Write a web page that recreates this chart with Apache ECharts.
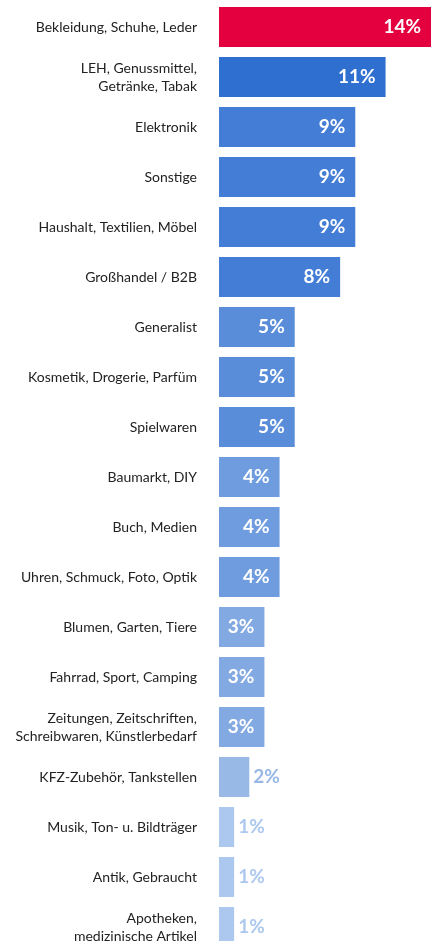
<!DOCTYPE html>
<html>
<head>
<meta charset="utf-8">
<script src="https://cdn.jsdelivr.net/npm/echarts@6/dist/echarts.min.js"></script>
<style>
  html, body { margin: 0; padding: 0; background: #fff; }
  #main { width: 431px; height: 941px; }
</style>
</head>
<body>
<div id="main"></div>
<script>
// Branchen
var categories = [
    'Bekleidung, Schuhe, Leder',
    'LEH, Genussmittel,\nGetränke, Tabak',
    'Elektronik',
    'Sonstige',
    'Haushalt, Textilien, Möbel',
    'Großhandel / B2B',
    'Generalist',
    'Kosmetik, Drogerie, Parfüm',
    'Spielwaren',
    'Baumarkt, DIY',
    'Buch, Medien',
    'Uhren, Schmuck, Foto, Optik',
    'Blumen, Garten, Tiere',
    'Fahrrad, Sport, Camping',
    'Zeitungen, Zeitschriften,\nSchreibwaren, Künstlerbedarf',
    'KFZ-Zubehör, Tankstellen',
    'Musik, Ton- u. Bildträger',
    'Antik, Gebraucht',
    'Apotheken,\nmedizinische Artikel'
];
// Anteil in %
var values = [14, 11, 9, 9, 9, 8, 5, 5, 5, 4, 4, 4, 3, 3, 3, 2, 1, 1, 1];

// Farbe je nach Wert
function barColor(v, i) {
    if (i === 0) return '#E4003F';
    if (v >= 11) return '#2F6FCF';
    if (v >= 8) return '#447DD5';
    if (v >= 5) return '#5A8DD9';
    if (v >= 4) return '#6E9CDF';
    if (v >= 3) return '#83A9E3';
    if (v >= 2) return '#98B8E6';
    return '#ADC8EE';
}

var seriesData = values.map(function (v, i) {
    var small = v <= 2;
    return {
        value: v,
        itemStyle: { color: barColor(v, i) },
        label: small ? {
            position: 'right',
            distance: 4,
            color: barColor(v, i)
        } : {
            position: 'insideRight',
            distance: 10,
            color: '#fff'
        }
    };
});

var chart = echarts.init(document.getElementById('main'));
chart.setOption({
    animation: false,
    grid: {
        left: 219,
        right: 0,
        top: 2,
        height: 950,
        outerBoundsMode: 'none',
        containLabel: false
    },
    xAxis: {
        type: 'value',
        min: 0,
        max: 14,
        show: false
    },
    yAxis: {
        type: 'category',
        data: categories,
        inverse: true,
        axisLine: { show: false },
        axisTick: { show: false },
        axisLabel: {
            margin: 22,
            fontFamily: 'Lato',
            fontSize: 14,
            lineHeight: 18,
            color: '#222'
        }
    },
    series: [
        {
            type: 'bar',
            barWidth: 40,
            data: seriesData,
            label: {
                show: true,
                fontFamily: 'Lato',
                fontWeight: 'bold',
                fontSize: 19,
                formatter: '{c}%'
            }
        }
    ]
});
</script>
</body>
</html>
